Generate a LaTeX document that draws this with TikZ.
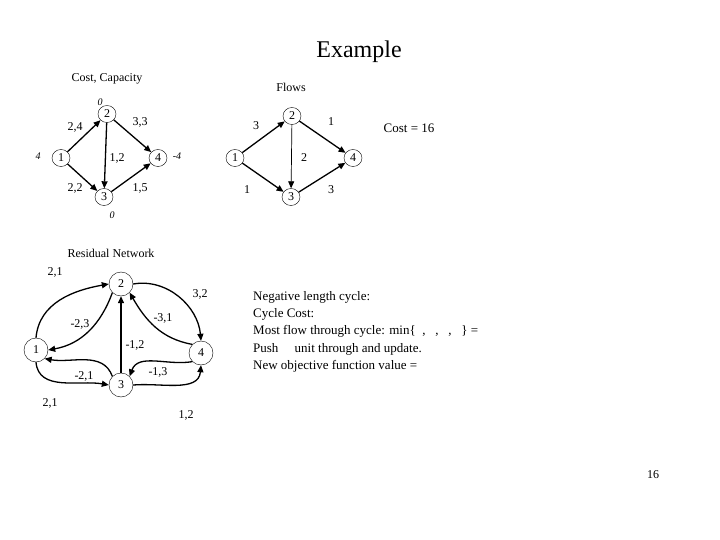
\documentclass[tikz,border=0pt]{standalone}
\usepackage{fontspec}
\setmainfont{Liberation Serif}
\usetikzlibrary{arrows.meta,shapes.geometric}
\begin{document}
\begin{tikzpicture}[x=1pt,y=-1pt,font=\fontsize{12}{14}\selectfont,
 vtx/.style={draw,ellipse,minimum width=18pt,minimum height=17pt,inner sep=0pt},
 rv/.style={draw,circle,minimum size=24pt,inner sep=0pt},
 arr/.style={-{Triangle[length=7pt,width=6pt]},line width=1.3pt},
 tarr/.style={-{Triangle[length=7pt,width=6pt]},line width=0.7pt},
 lab/.style={inner sep=0pt}]
\useasboundingbox (0,0) rectangle (720,540);
\node[lab,font=\fontsize{24}{28}\selectfont] (title) at (359,52) {Example};
\node[lab] (cc) at (107,79) {Cost, Capacity};
\node[lab] (fl) at (291,87) {Flows};
% graph A
\node[vtx] (a1) at (61,158) {1};
\node[vtx] (a2) at (107,114) {2};
\node[vtx] (a3) at (104,197) {3};
\node[vtx] (a4) at (158,158) {4};
\draw[arr] (a1) -- (a2);
\draw[arr] (a1) -- (a3);
\draw[arr] (a2) -- (a3);
\draw[arr] (a2) -- (a4);
\draw[arr] (a3) -- (a4);
\node[lab] (l1) at (75,127) {2,4};
\node[lab] (l2) at (140,122) {3,3};
\node[lab] (l3) at (117,158) {1,2};
\node[lab] (l4) at (75,188) {2,2};
\node[lab] (l5) at (140,188) {1,5};
\node[lab,font=\itshape] (s1) at (38,156) {4};
\node[lab,font=\itshape] (s2) at (100,102) {0};
\node[lab,font=\itshape] (s3) at (112,215) {0};
\node[lab,font=\itshape] (s4) at (177,156) {-4};
% graph B
\node[vtx] (b1) at (235,158) {1};
\node[vtx] (b2) at (292,116) {2};
\node[vtx] (b3) at (291,197) {3};
\node[vtx] (b4) at (353,158) {4};
\draw[arr] (b1) -- (b2);
\draw[arr] (b1) -- (b3);
\draw[tarr] (b2) -- (b3);
\draw[arr] (b2) -- (b4);
\draw[arr] (b3) -- (b4);
\node[lab] (f1) at (256,126) {3};
\node[lab] (f2) at (331,122) {1};
\node[lab] (f3) at (304,158) {2};
\node[lab] (f4) at (247,190) {1};
\node[lab] (f5) at (331,190) {3};
\node[lab,font=\fontsize{13}{15}\selectfont] (cost) at (409,128) {Cost = 16};
% residual
\node[lab] (rn) at (111,253) {Residual Network};
\node[rv] (r1) at (36,350) {1};
\node[rv] (r2) at (121,284) {2};
\node[rv] (r3) at (121,385) {3};
\node[rv] (r4) at (201,353) {4};
\draw[arr] (r1.north) to[out=85,in=190] (r2.west);
\draw[arr] (r2.south west) to[out=-110,in=10] (r1.east);
\draw[arr] (r2.east) to[out=10,in=95] (r4.north);
\draw[arr] (r4.north west) to[out=170,in=-60] (r2.south east);
\draw[arr] (r4.south west) to[out=190,in=70] (r3.north east);
\draw[arr] (r3.east) to[out=5,in=-95] (r4.south);
\draw[arr] (r3.north west) to[out=110,in=-10] (r1.south east);
\draw[arr] (r1.south) to[out=-85,in=170] (r3.west);
\draw[arr] (r3) -- (r2);
\node[lab] (q1) at (55,272) {2,1};
\node[lab] (q2) at (200,294) {3,2};
\node[lab] (q3) at (80,324) {-2,3};
\node[lab] (q4) at (163,318) {-3,1};
\node[lab] (q5) at (135,345) {-1,2};
\node[lab] (q6) at (84,376) {-2,1};
\node[lab] (q7) at (158,372) {-1,3};
\node[lab] (q8) at (50,403) {2,1};
\node[lab] (q9) at (186,415) {1,2};
\node[lab,align=left,anchor=north west,font=\fontsize{13}{17.3}\selectfont] (txt) at (253,291)
 {Negative length cycle:\\Cycle Cost:\\Most flow through cycle: min\{\ \ ,\ \ \ ,\ \ \ ,\ \ \ \} =\\Push\ \ \ \ \ unit through and update.\\New objective function value =};
\node[lab] (pg) at (653,475) {16};
\end{tikzpicture}
\end{document}
